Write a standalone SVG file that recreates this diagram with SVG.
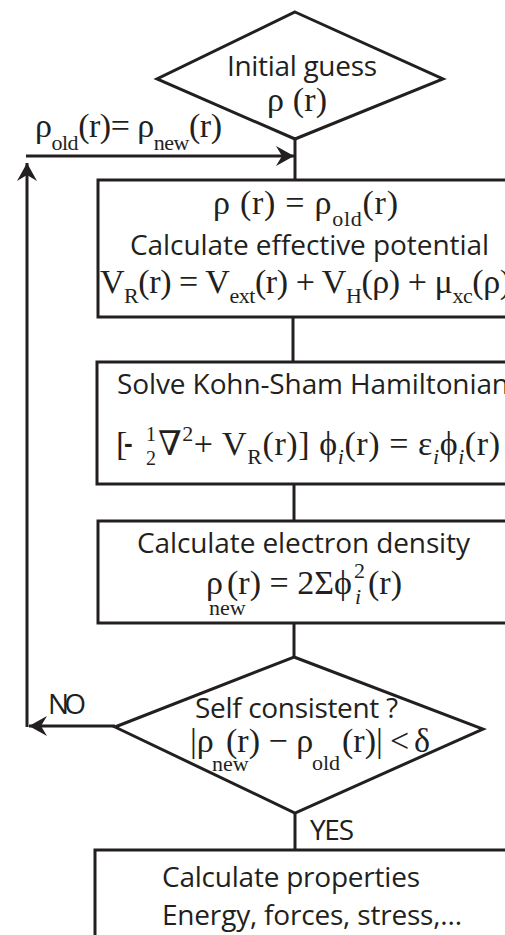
<svg xmlns="http://www.w3.org/2000/svg" width="505" height="935" viewBox="0 0 505 935">
<defs>
<style>
.sh{fill:#fff;stroke:#231f20;stroke-width:3}
.ln{fill:none;stroke:#231f20;stroke-width:3}
.s{font-family:"Open Sans","Liberation Sans",sans-serif;font-size:28px;fill:#231f20}
.m{font-family:"Liberation Serif","DejaVu Serif",serif;font-size:34px;fill:#231f20}
.sb{font-size:22px}
.fr{font-size:20px}
.it{font-style:italic}
</style>
<marker id="ah" markerUnits="userSpaceOnUse" markerWidth="24" markerHeight="24" viewBox="-20 -12 22 24" refX="0" refY="0" orient="auto">
<path d="M0,0 L-18,-10 L-12,0 L-18,10 Z" fill="#231f20"/>
</marker>
</defs>
<rect width="505" height="935" fill="#fff"/>

<g id="connectors">
<path class="ln" d="M295,139 V180"/>
<path class="ln" d="M293,317 V362"/>
<path class="ln" d="M294,484 V521"/>
<path class="ln" d="M294,623 V657"/>
<path class="ln" d="M295,813 V850"/>
<path class="ln" d="M115,726 H29" marker-end="url(#ah)"/>
<path class="ln" d="M27,727 V163" marker-end="url(#ah)"/>
<path class="ln" d="M26,156 H294" marker-end="url(#ah)"/>
<text class="m" x="35" y="137" textLength="187">ρ<tspan class="sb" dy="13">old</tspan><tspan dy="-13">(r)= ρ</tspan><tspan class="sb" dy="13">new</tspan><tspan dy="-13">(r)</tspan></text>
<text class="s" x="48" y="714" textLength="38">NO</text>
<text class="s" x="310" y="840" textLength="44">YES</text>
</g>

<g id="initial">
<polygon class="sh" points="295,12 443,79 295,139 157,79"/>
<text class="s" x="227" y="76" textLength="150">Initial guess</text>
<text class="m" x="267" y="111" textLength="60">ρ (r)</text>
</g>

<g id="potential">
<rect class="sh" x="98" y="180" width="430" height="137"/>
<text class="m" x="213" y="214" textLength="185">ρ (r) = ρ<tspan class="sb" dy="12">old</tspan><tspan dy="-12">(r)</tspan></text>
<text class="s" x="130" y="255" textLength="359">Calculate effective potential</text>
<text class="m" x="100" y="293" textLength="411">V<tspan class="sb" dy="10">R</tspan><tspan dy="-10">(r) = V</tspan><tspan class="sb" dy="10">ext</tspan><tspan dy="-10">(r) + V</tspan><tspan class="sb" dy="10">H</tspan><tspan dy="-10">(ρ) + μ</tspan><tspan class="sb" dy="10">xc</tspan><tspan dy="-10">(ρ)</tspan></text>
</g>

<g id="kohnsham">
<rect class="sh" x="97" y="362" width="430" height="122"/>
<text class="s" x="117" y="394" textLength="392">Solve Kohn-Sham Hamiltonian</text>
<text class="m" x="116" y="455" textLength="384">[<tspan dx="30">∇</tspan><tspan class="sb" dy="-14">2</tspan><tspan dy="14">+ V</tspan><tspan class="sb" dy="9">R</tspan><tspan dy="-9">(r)] ϕ</tspan><tspan class="sb it" dy="9">i</tspan><tspan dy="-9">(r) = ε</tspan><tspan class="sb it" dy="9">i</tspan><tspan dy="-9">ϕ</tspan><tspan class="sb it" dy="9">i</tspan><tspan dy="-9">(r)</tspan></text>
<text x="124" y="452" style="font-family:'Liberation Sans',sans-serif;font-weight:bold;font-size:26px;fill:#231f20">-</text>
<text class="m fr" x="146" y="441">1</text>
<text class="m fr" x="146" y="465">2</text>
</g>

<g id="density">
<rect class="sh" x="98" y="521" width="430" height="102"/>
<text class="s" x="137" y="553" textLength="333">Calculate electron density</text>
<text class="m" y="594"><tspan x="206">ρ</tspan><tspan x="227">(r) = 2Σϕ</tspan><tspan x="368">(r)</tspan></text>
<text class="m sb" x="354" y="578">2</text>
<text class="m sb it" x="355" y="604">i</text>
<text class="m sb" x="209" y="615">new</text>
</g>

<g id="check">
<polygon class="sh" points="294,657 483,729 295,813 115,727"/>
<text class="s" x="195" y="718" textLength="203">Self consistent ?</text>
<text class="m" y="752"><tspan x="190">|ρ</tspan><tspan x="226">(r) − ρ</tspan><tspan x="342">(r)|</tspan><tspan x="390">&lt;</tspan><tspan x="414">δ</tspan></text>
<text class="m sb" x="212" y="771">new</text>
<text class="m sb" x="312" y="770">old</text>
</g>

<g id="properties">
<rect class="sh" x="95" y="850" width="430" height="110"/>
<text class="s" x="162" y="887" textLength="258">Calculate properties</text>
<text class="s" x="162" y="925" textLength="300">Energy, forces, stress,...</text>
</g>
</svg>
